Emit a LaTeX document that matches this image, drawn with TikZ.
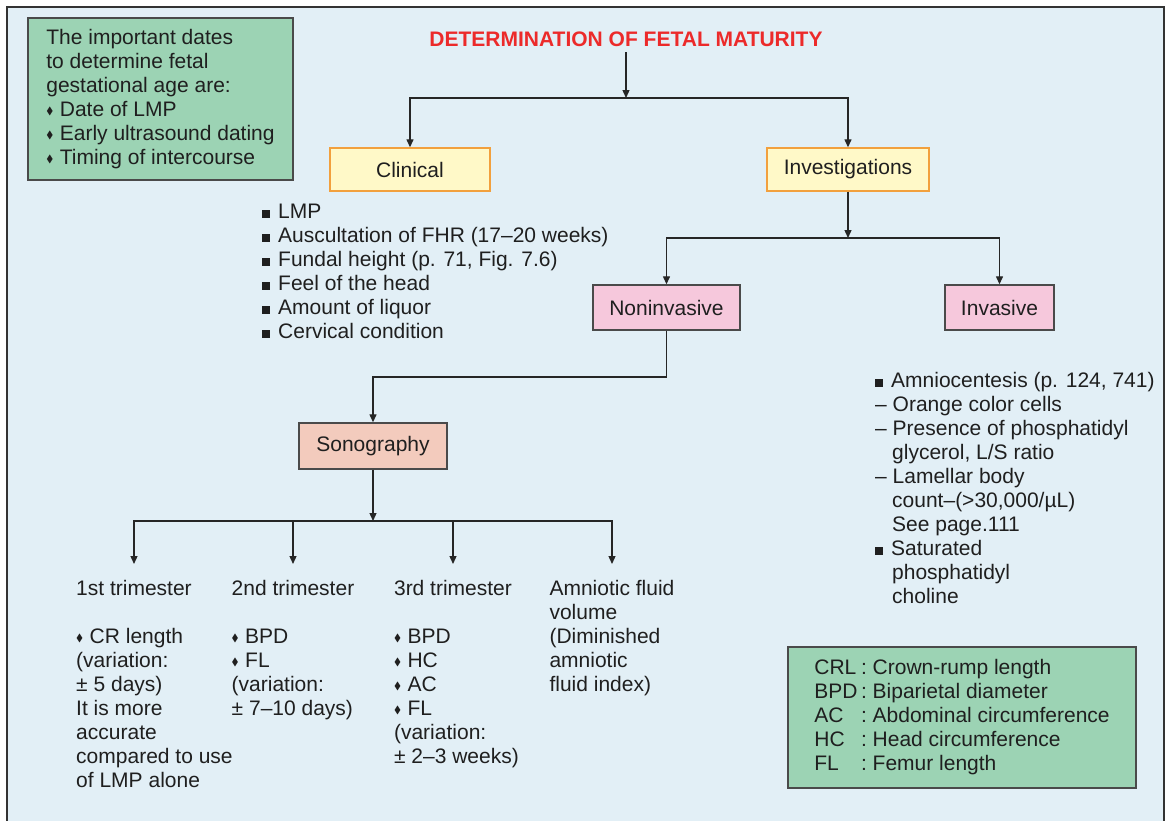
\documentclass[tikz,border=0pt]{standalone}
\usepackage{amssymb}
\usepackage{fontspec}
\setmainfont{Liberation Sans}
\usetikzlibrary{positioning,arrows.meta}
\definecolor{panel}{HTML}{E2EFF6}
\definecolor{notegreen}{HTML}{9CD3B4}
\definecolor{clinfill}{HTML}{FFF9C8}
\definecolor{clinedge}{HTML}{F2A03D}
\definecolor{invfill}{HTML}{F6C8DC}
\definecolor{sonofill}{HTML}{F3CBBD}
\definecolor{edge}{HTML}{4A4A4A}
\definecolor{titlered}{HTML}{EC2A2A}
\newcommand\sqb{\rule{8pt}{8pt}\hspace{8pt}}
\newcommand\dmb{\raisebox{2.2pt}{\scalebox{0.5}{$\blacklozenge$}}\hspace{6.5pt}}
\newcommand\ind{\hspace*{17pt}}

\begin{document}
\begin{tikzpicture}[x=1pt, y=-1pt, >={Stealth[length=8pt,width=7pt,inset=0pt]},
    every node/.style={font=\fontsize{21}{24}\selectfont, text=black!88},
    yellowbox/.style={draw=clinedge, line width=1.4pt, fill=clinfill, minimum height=43pt},
    pinkbox/.style={draw=edge, line width=1.4pt, fill=invfill, minimum height=45pt},
    notebox/.style={draw=edge, line width=1.2pt, fill=notegreen, align=left},
    list/.style={align=left, inner sep=0pt, anchor=north west},
    head/.style={inner xsep=0pt, inner ysep=14pt, anchor=north, align=left},
    link/.style={draw=black!85, line width=1.3pt}]
  \fill[white] (0,0) rectangle (1168,820);
  \useasboundingbox (0,0) rectangle (1168,820);
  \draw[fill=panel, draw=black!80, line width=2.5pt] (7,7) rectangle (1164,830);

  \node[notebox, minimum width=265pt, minimum height=162pt] (dates) at (160.5,99)
    {The important dates\\to determine fetal\\gestational age are:\\\dmb Date of LMP\\\dmb Early ultrasound dating\\\dmb Timing of intercourse};

  \node[font=\fontsize{21}{25}\selectfont\bfseries, text=titlered, inner sep=6pt, anchor=base] (title) at (626,46) {DETERMINATION OF FETAL MATURITY};
  \node[yellowbox, minimum width=160pt] (clin) at (410,169.5) {Clinical};
  \node[yellowbox, minimum width=162pt] (invest) at (848,169.5) {Investigations};
  \node[pinkbox, minimum width=147pt] (noninv) at (666.5,307.5) {Noninvasive};
  \node[pinkbox, minimum width=109pt] (inv) at (999.5,307.5) {Invasive};
  \node[pinkbox, fill=sonofill, minimum width=148pt, minimum height=46pt] (sono) at (373,446) {Sonography};

  \coordinate (split1) at (626,98);
  \coordinate (split2) at (848,238);
  \coordinate (bend) at (0,377);
  \coordinate (split3) at (373,521);

  \node[list] (clinlist) at (262,201.2) {\strut\sqb LMP\\\sqb Auscultation of FHR (17--20 weeks)\\\sqb Fundal height (p. 71, Fig. 7.6)\\\sqb Feel of the head\\\sqb Amount of liquor\\\sqb Cervical condition};
  \node[list] (invlist) at (875,370.2) {\strut\sqb Amniocentesis (p. 124, 741)\\-- Orange color cells\\-- Presence of phosphatidyl\\\ind glycerol, L/S ratio\\-- Lamellar body\\\ind count--(>30,000/µL)\\\ind See page.111\\\sqb Saturated\\\ind phosphatidyl\\\ind choline};

  \node[head] (tri1) at (134,564) {\strut 1st trimester};
  \node[head] (tri2) at (293,564) {\strut 2nd trimester};
  \node[head] (tri3) at (453,564) {\strut 3rd trimester};
  \node[head] (amnio) at (612,564) {\strut Amniotic fluid\\volume\\(Diminished\\amniotic\\fluid index)};
  \node[list, below right=10pt and 0pt of tri1.south west] (tri1txt) {\strut\dmb CR length\\(variation:\\± 5 days)\\It is more\\accurate\\compared to use\\of LMP alone};
  \node[list, below right=10pt and 0pt of tri2.south west] (tri2txt) {\strut\dmb BPD\\\dmb FL\\(variation:\\± 7--10 days)};
  \node[list, below right=10pt and 0pt of tri3.south west] (tri3txt) {\strut\dmb BPD\\\dmb HC\\\dmb AC\\\dmb FL\\(variation:\\± 2--3 weeks)};

  \node[notebox, minimum width=348pt, minimum height=141pt] (abbr) at (962,717.5)
    {\begin{tabular}{@{}l@{\,:\ }l@{}}CRL & Crown-rump length\\BPD & Biparietal diameter\\AC & Abdominal circumference\\HC & Head circumference\\FL & Femur length\end{tabular}};

  \draw[link,->] (title) -- (split1);
  \draw[link,->] (split1) -| (clin);
  \draw[link,->] (split1) -| (invest);
  \draw[link,->] (invest) -- (split2);
  \draw[link,->] (split2) -| (noninv);
  \draw[link,->] (split2) -| (inv);
  \draw[link,->] (noninv.south) -- (noninv.south |- bend) -| (sono);
  \draw[link,->] (sono) -- (split3);
  \foreach \t in {tri1,tri2,tri3,amnio}
    \draw[link,->] (split3) -| (\t);
\end{tikzpicture}
\end{document}
